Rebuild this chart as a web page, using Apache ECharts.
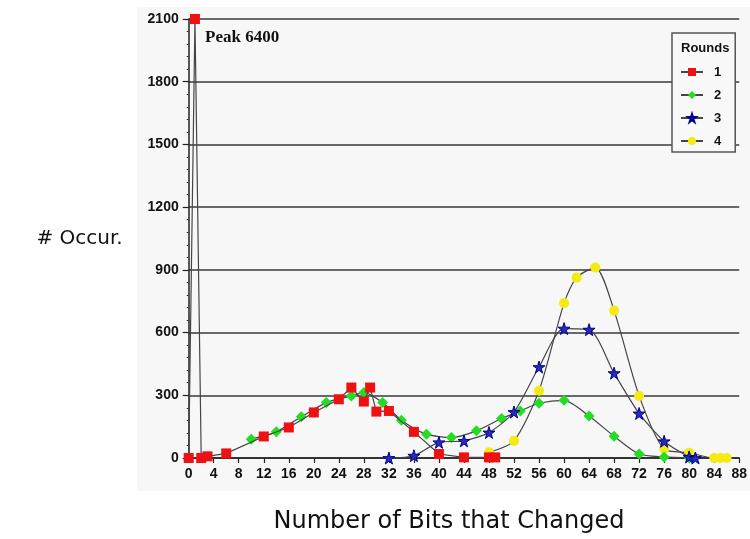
<!DOCTYPE html>
<html><head><meta charset="utf-8">
<script src="https://cdn.jsdelivr.net/npm/echarts@6/dist/echarts.min.js"></script>
<style>html,body{margin:0;padding:0;background:#fff}#c{width:750px;height:539px}</style>
</head><body><div id="c"></div>
<script>
// ---- data ----
const roundNames = ['1', '2', '3', '4'];
const round1X = [0, 1, 2, 3, 6, 12, 16, 20, 24, 26, 28, 29, 30, 32, 36, 40, 44, 48, 49];
const round1Y = [0, 6400, 0, 8, 22, 103, 146, 218, 281, 337, 270, 337, 222, 225, 125, 19, 3, 3, 3];
const round2X = [10, 14, 18, 22, 26, 28, 31, 34, 38, 42, 46, 50, 53, 56, 60, 64, 68, 72, 76, 80];
const round2Y = [90, 125, 197, 265, 297, 313, 265, 181, 114, 98, 130, 189, 225, 262, 276, 201, 104, 19, 5, 0];
const round3X = [32, 36, 40, 44, 48, 52, 56, 60, 64, 68, 72, 76, 80, 81];
const round3Y = [0, 11, 75, 82, 122, 220, 435, 619, 614, 406, 213, 80, 5, 0];
const round4X = [48, 52, 56, 60, 62, 65, 68, 72, 76, 80, 84, 85, 86];
const round4Y = [27, 82, 322, 741, 863, 911, 705, 297, 43, 25, 0, 0, 0];
const peakLabel = 'Peak 6400';
const xAxisTitle = 'Number of Bits that Changed';
const yAxisTitle = '# Occur.';
const legendTitle = 'Rounds';
const yAxisMax = 2100, yAxisStep = 300, xAxisMax = 88, xAxisStep = 4;

function pairs(xs, ys) { return xs.map((x, i) => [x, Math.min(ys[i], yAxisMax)]); }

const starPath = 'path://M50,0 L61,35 L98,35 L68,57 L79,91 L50,70 L21,91 L32,57 L2,35 L39,35 Z';
const labelFont = { color: '#111', fontWeight: 'bold', fontSize: 14, fontFamily: 'Liberation Sans', formatter: v => String(v) };
const lineCol = '#454545';

const chart = echarts.init(document.getElementById('c'), null, { renderer: 'canvas' });
chart.setOption({
  animation: false,
  backgroundColor: '#fff',
  graphic: [
    { type: 'rect', z: -100, shape: { x: 137, y: 7, width: 613, height: 484 }, style: { fill: '#f7f7f7' } },
    { type: 'text', z: 100, x: 205, y: 38, style: { text: peakLabel, font: 'bold 17px "Liberation Serif"', fill: '#111', verticalAlign: 'middle' } }
  ],
  title: { text: legendTitle, left: 681, top: 42, padding: 0, textStyle: { fontSize: 13, fontWeight: 'bold', color: '#111', fontFamily: 'Liberation Sans' } },
  legend: {
    data: roundNames, orient: 'vertical', left: 672, top: 33,
    padding: [32, 14, 4, 8], itemGap: 9, itemWidth: 22, itemHeight: 10,
    backgroundColor: '#f8f8f8', borderColor: '#555', borderWidth: 1.5,
    textStyle: { color: '#111', fontWeight: 'bold', fontSize: 13, fontFamily: 'Liberation Sans', padding: [0, 0, 0, 6], lineHeight: 14 }
  },
  grid: { left: 188.7, right: 5, top: 19, bottom: 80, containLabel: false },
  xAxis: {
    type: 'value', min: 0, max: xAxisMax, interval: xAxisStep,
    name: xAxisTitle, nameLocation: 'middle', nameGap: 52,
    nameTextStyle: { fontSize: 24, fontFamily: 'DejaVu Sans', color: '#111', padding: [0, 30, 0, 0] },
    axisLine: { show: true, onZero: false, lineStyle: { color: '#222', width: 1.5 } },
    axisTick: { show: true, length: 5, lineStyle: { color: '#222', width: 1.2 } },
    axisLabel: Object.assign({ margin: 9 }, labelFont),
    splitLine: { show: false }
  },
  yAxis: {
    type: 'value', min: 0, max: yAxisMax, interval: yAxisStep,
    name: yAxisTitle, nameLocation: 'middle', nameRotate: 0, nameGap: 66,
    nameTextStyle: { fontSize: 20, fontFamily: 'DejaVu Sans', color: '#111' },
    axisLine: { show: true, lineStyle: { color: '#222', width: 1.5 } },
    axisTick: { show: true, length: 6, lineStyle: { color: '#222', width: 1.2 } },
    minorTick: { show: true, splitNumber: 5, length: 2, lineStyle: { color: '#333', width: 1 } },
    axisLabel: Object.assign({ margin: 10 }, labelFont),
    splitLine: { show: true, lineStyle: { color: '#3a3a3a', width: 1.5 } }
  },
  series: [
    { name: roundNames[0], type: 'line', z: 5, data: pairs(round1X, round1Y), symbol: 'rect', symbolSize: 10,
      itemStyle: { color: '#ee1111' }, lineStyle: { color: lineCol, width: 1.2 } },
    { name: roundNames[1], type: 'line', z: 3, smooth: 0.25, data: pairs(round2X, round2Y), symbol: 'diamond', symbolSize: 11,
      itemStyle: { color: '#22dd22' }, lineStyle: { color: lineCol, width: 1.2 } },
    { name: roundNames[2], type: 'line', z: 4, smooth: 0.25, data: pairs(round3X, round3Y), symbol: starPath, symbolSize: 12,
      itemStyle: { color: '#2a2ab8', borderColor: '#000090', borderWidth: 1 }, lineStyle: { color: lineCol, width: 1.2 } },
    { name: roundNames[3], type: 'line', z: 2, smooth: 0.25, data: pairs(round4X, round4Y), symbol: 'circle', symbolSize: 10,
      itemStyle: { color: '#f2ea10' }, lineStyle: { color: lineCol, width: 1.2 } }
  ]
});
</script>
</body></html>
